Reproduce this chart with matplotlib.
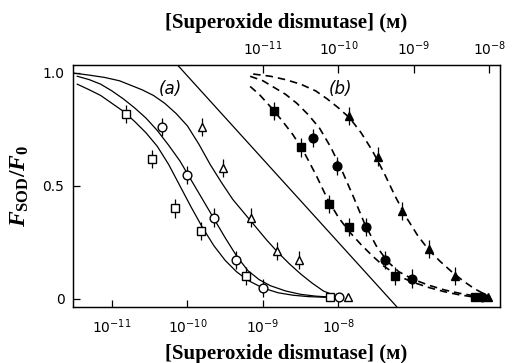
import numpy as np
import matplotlib
matplotlib.use("Agg")
import matplotlib.pyplot as plt

plt.rcParams['mathtext.fontset'] = 'custom'
plt.rcParams['mathtext.it'] = 'Liberation Serif:italic:bold'
plt.rcParams['mathtext.rm'] = 'Liberation Serif:bold'

# ---- data (log10 of concentration, M) ----
# panel (a): open symbols, bottom axis
sq_a_logc = [-10.82, -10.47, -10.16, -9.82, -9.22, -8.11]
sq_a_f = [0.82, 0.62, 0.40, 0.30, 0.10, 0.01]
ci_a_logc = [-10.34, -10.0, -9.65, -9.36, -9.0, -7.99]
ci_a_f = [0.76, 0.55, 0.36, 0.17, 0.05, 0.01]
tr_a_logc = [-9.81, -9.53, -9.16, -8.82, -8.52, -7.88]
tr_a_f = [0.76, 0.58, 0.36, 0.21, 0.17, 0.01]

# panel (b): filled symbols, top axis
sq_b_logc = [-10.86, -10.50, -10.13, -9.86, -9.25, -8.19]
sq_b_f = [0.83, 0.67, 0.42, 0.32, 0.10, 0.01]
ci_b_logc = [-10.34, -10.02, -9.64, -9.39, -9.03, -8.10]
ci_b_f = [0.71, 0.59, 0.32, 0.17, 0.09, 0.01]
tr_b_logc = [-9.86, -9.47, -9.16, -8.80, -8.45, -8.02]
tr_b_f = [0.81, 0.63, 0.39, 0.22, 0.10, 0.01]

err_a = [0.04, 0.04, 0.04, 0.04, 0.04, 0.0]
err_b = [0.04, 0.04, 0.04, 0.04, 0.04, 0.0]

# fitted curves (a)
fit_sq_logc = [-11.46, -11.3, -11.15, -11.0, -10.85, -10.7, -10.55, -10.4, -10.25, -10.1,
               -9.95, -9.8, -9.65, -9.5, -9.35, -9.2, -9.0, -8.8, -8.6, -8.4, -8.1]
fit_sq_f = [0.95, 0.925, 0.90, 0.865, 0.83, 0.785, 0.735, 0.675, 0.595, 0.50,
            0.405, 0.315, 0.235, 0.17, 0.12, 0.082, 0.048, 0.027, 0.016, 0.01, 0.006]
fit_ci_logc = [-11.46, -11.3, -11.15, -11.0, -10.85, -10.7, -10.55, -10.4, -10.25, -10.1,
               -9.95, -9.8, -9.65, -9.5, -9.35, -9.2, -9.05, -8.9, -8.7, -8.5, -8.3, -8.1]
fit_ci_f = [0.985, 0.97, 0.95, 0.92, 0.885, 0.845, 0.80, 0.745, 0.68, 0.61,
            0.525, 0.44, 0.355, 0.27, 0.19, 0.125, 0.085, 0.058, 0.035, 0.02, 0.012, 0.008]
fit_tr_logc = [-11.53, -11.3, -11.1, -10.9, -10.75, -10.6, -10.45, -10.3, -10.15, -10.0,
               -9.85, -9.7, -9.55, -9.4, -9.25, -9.1, -8.95, -8.8, -8.65, -8.5, -8.35,
               -8.2, -8.05]
fit_tr_f = [1.0, 0.99, 0.98, 0.965, 0.945, 0.925, 0.90, 0.865, 0.82, 0.765,
            0.685, 0.595, 0.515, 0.44, 0.38, 0.32, 0.26, 0.205, 0.155, 0.11, 0.07,
            0.035, 0.015]
line_logc = [-10.13, -7.23]
line_f = [1.034, -0.034]

# fitted curves (b), top axis
dfit_sq_logc = [-11.17, -11.05, -10.9, -10.75, -10.6, -10.45, -10.3, -10.15, -10.0, -9.85,
                -9.7, -9.55, -9.4, -9.2, -9.0, -8.8, -8.6, -8.4, -8.2]
dfit_sq_f = [0.94, 0.905, 0.85, 0.79, 0.725, 0.645, 0.55, 0.445, 0.36, 0.295,
             0.24, 0.19, 0.145, 0.10, 0.072, 0.05, 0.032, 0.018, 0.008]
dfit_ci_logc = [-11.17, -11.0, -10.85, -10.7, -10.55, -10.4, -10.25, -10.1, -9.95, -9.8,
                -9.65, -9.5, -9.35, -9.2, -9.0, -8.8, -8.6, -8.4, -8.1]
dfit_ci_f = [0.985, 0.965, 0.935, 0.905, 0.865, 0.815, 0.755, 0.67, 0.565, 0.45,
             0.33, 0.235, 0.165, 0.12, 0.085, 0.06, 0.04, 0.025, 0.008]
dfit_tr_logc = [-11.13, -10.9, -10.7, -10.5, -10.3, -10.15, -10.0, -9.85, -9.7, -9.55,
                -9.4, -9.25, -9.1, -8.95, -8.8, -8.65, -8.5, -8.35, -8.2, -8.0]
dfit_tr_f = [0.995, 0.985, 0.97, 0.95, 0.92, 0.885, 0.845, 0.80, 0.735, 0.655,
             0.56, 0.455, 0.36, 0.28, 0.215, 0.165, 0.12, 0.08, 0.045, 0.01]


def c(logc):
    return 10.0 ** np.asarray(logc)


fig = plt.figure(figsize=(5.16, 3.63), dpi=100)
ax = fig.add_axes([0.141, 0.153, 0.828, 0.668])
ax.set_xscale('log')
ax.set_xlim(10 ** -11.52, 10 ** -5.86)
ax.set_ylim(-0.038, 1.035)

ax2 = ax.twiny()
ax2.set_xscale('log')
ax2.set_xlim(10 ** -13.52, 10 ** -7.86)

# solid curves (a)
for lx, ly in [(fit_sq_logc, fit_sq_f), (fit_ci_logc, fit_ci_f),
               (fit_tr_logc, fit_tr_f), (line_logc, line_f)]:
    ax.plot(c(lx), ly, color='black', lw=0.9, zorder=2)

# dashed curves (b)
for lx, ly in [(dfit_sq_logc, dfit_sq_f), (dfit_ci_logc, dfit_ci_f),
               (dfit_tr_logc, dfit_tr_f)]:
    ax2.plot(c(lx), ly, color='black', lw=1.2, dashes=(4.5, 3), zorder=2)

# data points
for lx, ly, m in [(sq_a_logc, sq_a_f, 's'), (ci_a_logc, ci_a_f, 'o'),
                  (tr_a_logc, tr_a_f, '^')]:
    ax.errorbar(c(lx), ly, yerr=err_a, fmt=m, ms=6.3, mfc='white', mec='black',
                mew=1.0, ecolor='black', elinewidth=0.9, capsize=0, zorder=3)
for lx, ly, m in [(sq_b_logc, sq_b_f, 's'), (ci_b_logc, ci_b_f, 'o'),
                  (tr_b_logc, tr_b_f, '^')]:
    ax2.errorbar(c(lx), ly, yerr=err_b, fmt=m, ms=6.3, mfc='black', mec='black',
                 mew=1.0, ecolor='black', elinewidth=0.9, capsize=0, zorder=3)

# ticks
ax.set_xticks([1e-11, 1e-10, 1e-9, 1e-8])
ax.xaxis.set_minor_locator(matplotlib.ticker.NullLocator())
ax2.set_xticks([1e-11, 1e-10, 1e-9, 1e-8])
ax2.xaxis.set_minor_locator(matplotlib.ticker.NullLocator())
ax.set_yticks([0, 0.5, 1.0])
ax.set_yticklabels(['0', '0.5', '1.0'])
ax.tick_params(axis='both', direction='in', length=5, width=0.9, labelsize=10, pad=6)
ax.tick_params(axis='x', pad=7)
ax2.tick_params(axis='x', direction='in', length=6, width=0.9, labelsize=10, pad=5)
for a in (ax, ax2):
    for s in a.spines.values():
        s.set_linewidth(0.9)

lab = '[Superoxide dismutase] (ᴍ)'
fam = ['Liberation Serif', 'DejaVu Serif', 'DejaVu Sans']
ax.set_xlabel(lab, family=fam, fontsize=15, fontweight='bold', labelpad=6)
ax2.set_xlabel(lab, family=fam, fontsize=15, fontweight='bold', labelpad=8)
ax.set_ylabel(r'$F_{\mathrm{SOD}}/F_0$', fontsize=17, labelpad=8)

ax.text(10 ** -10.23, 0.93, '(a)', style='italic', fontsize=12, ha='center', va='center')
ax.text(10 ** -7.98, 0.93, '(b)', style='italic', fontsize=12, ha='center', va='center')

fig.savefig('out.png', dpi=100)
